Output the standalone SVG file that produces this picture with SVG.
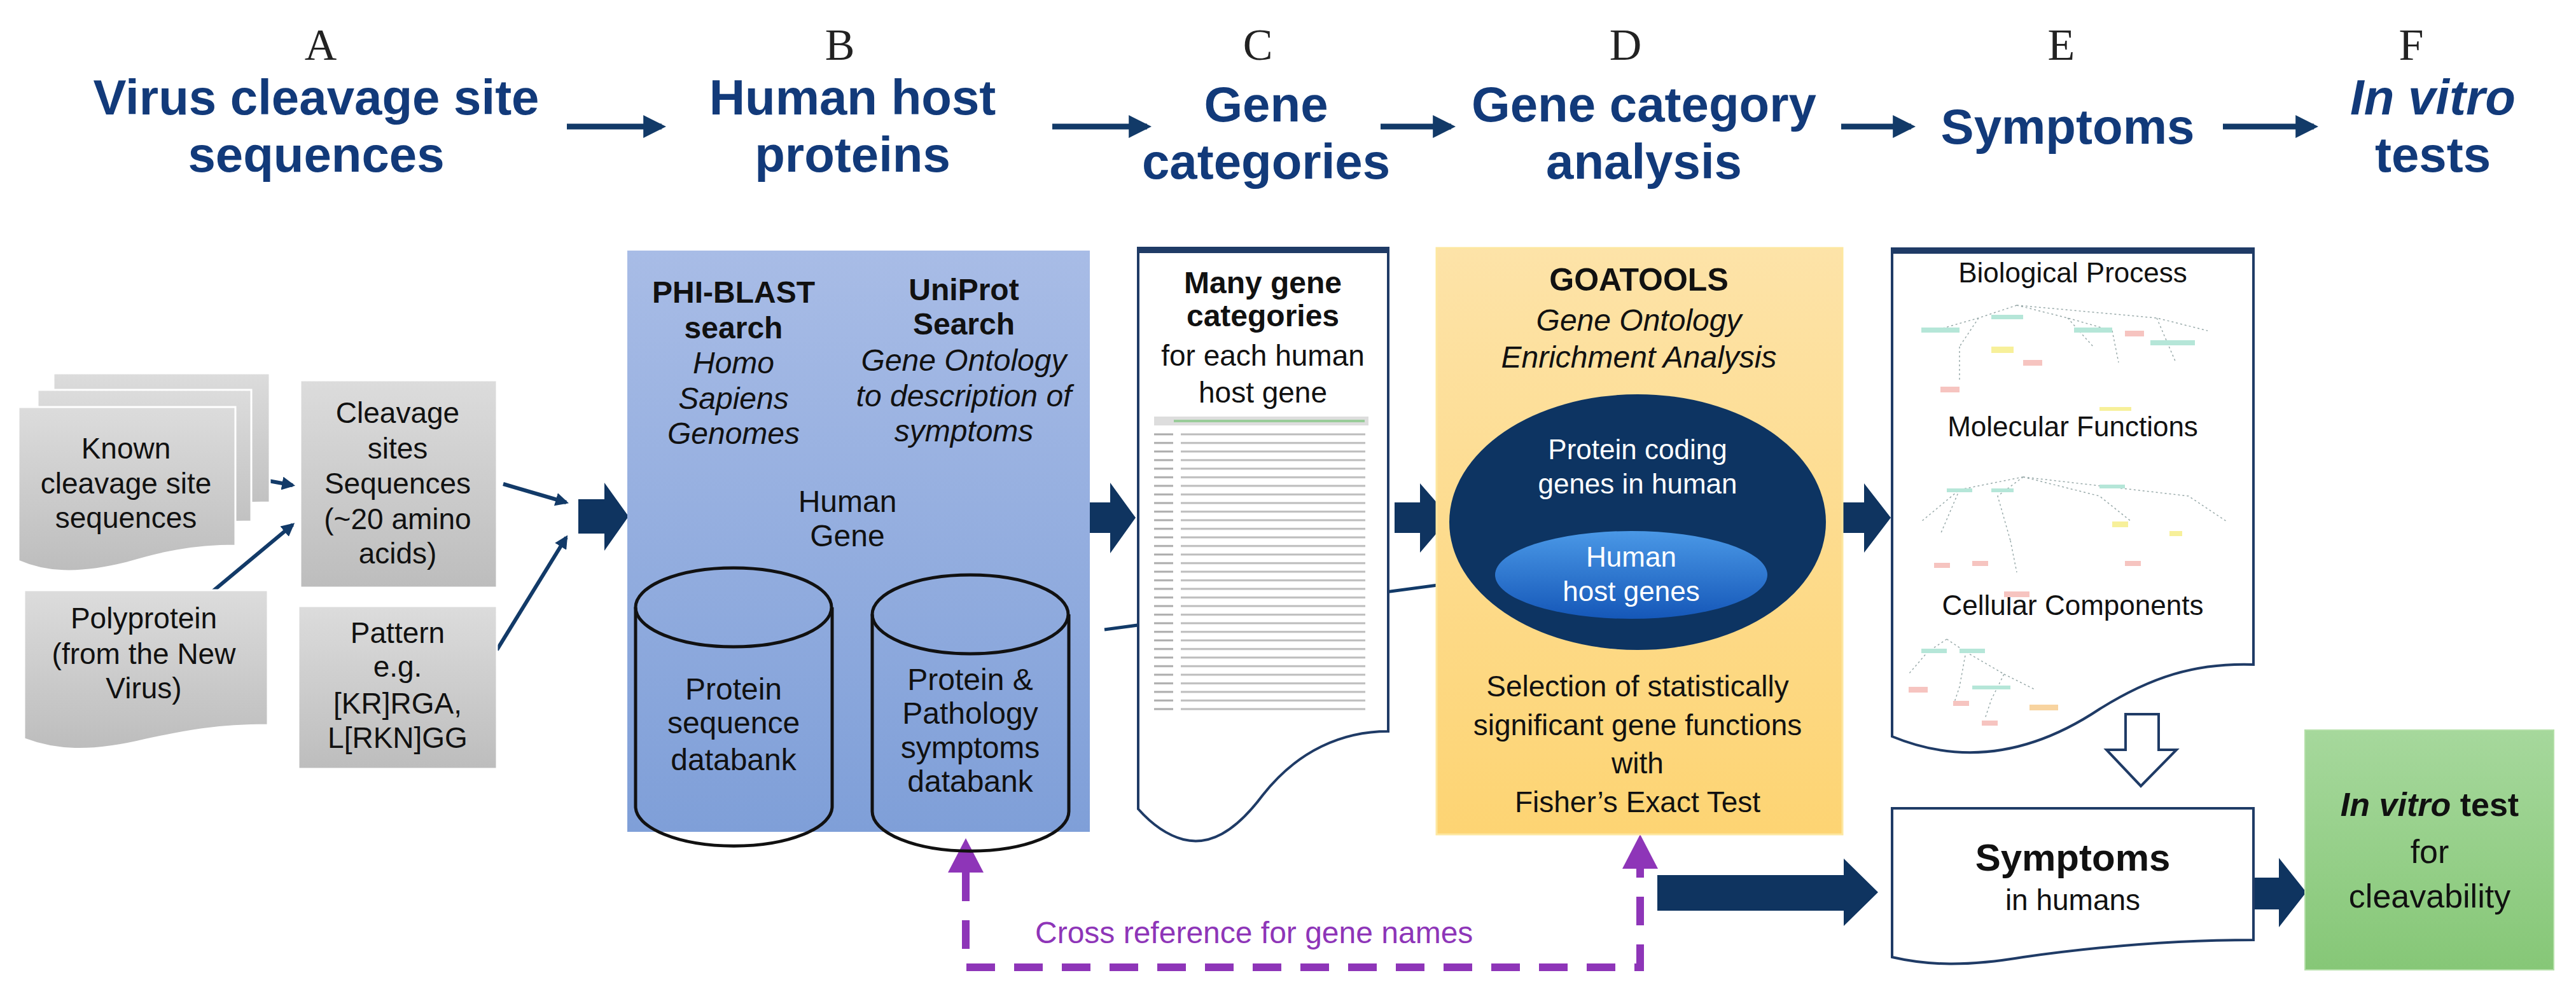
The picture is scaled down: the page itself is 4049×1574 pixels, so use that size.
<svg xmlns="http://www.w3.org/2000/svg" width="4049" height="1574" viewBox="0 0 4049 1574">
<defs>
<style>
.t{font-family:"Liberation Sans",Arial,sans-serif;fill:#111;text-anchor:middle}
.h{font-family:"Liberation Sans",Arial,sans-serif;font-weight:bold;font-size:78px;fill:#123a7a;text-anchor:middle}
.l{font-family:"Liberation Serif","Times New Roman",serif;font-size:70px;fill:#222;text-anchor:middle}
.nav{fill:#0f3460}
.doc{fill:#fff;stroke:#1f3b66;stroke-width:4}
.gr{fill:url(#gg);stroke:#fff;stroke-width:3}
.cyl{fill:none;stroke:#111;stroke-width:5}
.tr{stroke:#9aa;stroke-width:1.5;stroke-dasharray:3 4;fill:none}
.g1{fill:#b5e6d8}.r1{fill:#f6c4c0}.y1{fill:#f7f09a}
</style>
<linearGradient id="gg" x1="0" y1="0" x2="0" y2="1"><stop offset="0" stop-color="#dcdcdc"/><stop offset="1" stop-color="#bdbdbd"/></linearGradient>
<linearGradient id="bg" x1="0" y1="0" x2="0" y2="1"><stop offset="0" stop-color="#a8bce6"/><stop offset="1" stop-color="#7f9fd8"/></linearGradient>
<linearGradient id="yg" x1="0" y1="0" x2="0" y2="1"><stop offset="0" stop-color="#fde3a8"/><stop offset="1" stop-color="#fdd473"/></linearGradient>
<linearGradient id="eg" x1="0" y1="0" x2="0" y2="1"><stop offset="0" stop-color="#4a98e6"/><stop offset="1" stop-color="#1557b8"/></linearGradient>
<linearGradient id="vg" x1="0" y1="0" x2="0" y2="1"><stop offset="0" stop-color="#a6d89c"/><stop offset="1" stop-color="#86c777"/></linearGradient>
<marker id="ah" viewBox="0 0 10 10" refX="8" refY="5" markerWidth="4" markerHeight="4" orient="auto"><path d="M0,0 L10,5 L0,10 Z" fill="#123a68"/></marker>
<marker id="ah2" viewBox="0 0 10 10" refX="8" refY="5" markerWidth="3.5" markerHeight="3.5" orient="auto"><path d="M0,0 L10,5 L0,10 Z" fill="#123a68"/></marker>
<pattern id="rows" x="1814" y="690" width="337" height="13.5" patternUnits="userSpaceOnUse"><rect x="0" y="5" width="30" height="3" fill="#aaa"/><rect x="42" y="5" width="290" height="3" fill="#bbb"/></pattern>
</defs>

<g id="headers">
<text class="l" x="504" y="94">A</text><text class="l" x="1320" y="94">B</text><text class="l" x="1977" y="94">C</text><text class="l" x="2555" y="94">D</text><text class="l" x="3240" y="94">E</text><text class="l" x="3790" y="94">F</text>
<text class="h" x="497" y="180">Virus cleavage site</text><text class="h" x="497" y="270">sequences</text>
<text class="h" x="1340" y="180">Human host</text><text class="h" x="1340" y="270">proteins</text>
<text class="h" x="1990" y="191">Gene</text><text class="h" x="1990" y="281">categories</text>
<text class="h" x="2584" y="191">Gene category</text><text class="h" x="2584" y="281">analysis</text>
<text class="h" x="3250" y="226">Symptoms</text>
<text class="h" x="3824" y="180"><tspan font-style="italic">In vitro</tspan></text><text class="h" x="3824" y="270">tests</text>
</g>

<g id="connectors">
<g stroke="#123a68" stroke-width="9" marker-end="url(#ah)">
<line x1="891" y1="199" x2="1040" y2="199"/><line x1="1654" y1="199" x2="1803" y2="199"/><line x1="2170" y1="199" x2="2281" y2="199"/><line x1="2894" y1="199" x2="3004" y2="199"/><line x1="3494" y1="199" x2="3637" y2="199"/>
</g>
<g stroke="#123a68" stroke-width="6" marker-end="url(#ah2)">
<line x1="351" y1="743" x2="460" y2="763"/><line x1="328" y1="935" x2="460" y2="825"/><line x1="791" y1="761" x2="890" y2="790"/><line x1="781" y1="1022" x2="890" y2="845"/>
</g>
<polygon class="nav" points="909,785 950,785 950,759 988,812 950,866 950,839 909,839"/>
<polygon class="nav" points="1701,790 1745,790 1745,759 1785,814 1745,870 1745,838 1701,838"/>
<polygon class="nav" points="2192,790 2232,790 2232,760 2279,814 2232,869 2232,838 2192,838"/>
<polygon class="nav" points="2891,790 2930,790 2930,760 2972,814 2930,869 2930,838 2891,838"/>
<polygon class="nav" points="2605,1376 2898,1376 2898,1350 2952,1403 2898,1456 2898,1432 2605,1432"/>
<polygon class="nav" points="3542,1380 3582,1380 3582,1349 3625,1403 3582,1458 3582,1430 3542,1430"/>
<polygon points="1294,889 1360,889 1360,875 1389,897 1360,919 1360,905 1294,905" class="nav"/>
<line x1="1736" y1="990" x2="2440" y2="896" stroke="#123a68" stroke-width="5" marker-end="url(#ah2)"/>
<polygon points="3341,1123 3393,1123 3393,1179 3421,1179 3365,1236 3311,1179 3341,1179" fill="#fff" stroke="#1f3b66" stroke-width="4"/>
<g stroke="#8e35b8" stroke-width="12" fill="none">
<path d="M1518,1372 V1521 H2578 V1366" stroke-dasharray="45 30"/>
</g>
<polygon points="1490,1372 1546,1372 1518,1318" fill="#8e35b8"/>
<polygon points="2550,1366 2606,1366 2578,1312" fill="#8e35b8"/>
<text class="t" x="1627" y="1483" font-size="48" fill="#8e35b8" style="text-anchor:start;fill:#8e35b8">Cross reference for gene names</text>
</g>

<g id="known">
<path class="gr" d="M84,587 H424 V790 C350,790 300,800 250,812 C170,830 120,825 84,812 Z"/>
<path class="gr" d="M59,613 H395 V820 C320,820 270,830 220,842 C140,860 95,855 59,842 Z"/>
<path class="gr" d="M29,640 H370 V858 C300,858 250,870 200,885 C120,905 70,900 29,882 Z"/>
<text class="t" font-size="46" x="198" y="721">Known</text><text class="t" font-size="46" x="198" y="776">cleavage site</text><text class="t" font-size="46" x="198" y="830">sequences</text>
</g>
<g id="poly">
<path class="gr" d="M38,928 H421 V1140 C340,1140 290,1150 230,1163 C140,1185 85,1180 38,1162 Z"/>
<text class="t" font-size="46" x="226" y="988">Polyprotein</text><text class="t" font-size="46" x="226" y="1044">(from the New</text><text class="t" font-size="46" x="226" y="1098">Virus)</text>
</g>
<g id="cleavage">
<rect class="gr" x="472" y="598" width="309" height="326"/>
<text class="t" font-size="46" x="625" y="665">Cleavage</text><text class="t" font-size="46" x="625" y="721">sites</text><text class="t" font-size="46" x="625" y="776">Sequences</text><text class="t" font-size="46" x="625" y="832">(~20 amino</text><text class="t" font-size="46" x="625" y="886">acids)</text>
</g>
<g id="pattern">
<rect class="gr" x="469" y="953" width="312" height="256"/>
<text class="t" font-size="46" x="625" y="1011">Pattern</text><text class="t" font-size="46" x="625" y="1064">e.g.</text><text class="t" font-size="46" x="625" y="1122">[KR]RGA,</text><text class="t" font-size="46" x="625" y="1176">L[RKN]GG</text>
</g>

<g id="B">
<rect x="986" y="394" width="727" height="914" fill="url(#bg)"/>
<g class="t" font-size="48">
<text x="1153" y="476" font-weight="bold">PHI-BLAST</text><text x="1153" y="532" font-weight="bold">search</text>
<text x="1153" y="587" font-style="italic">Homo</text><text x="1153" y="643" font-style="italic">Sapiens</text><text x="1153" y="698" font-style="italic">Genomes</text>
<text x="1515" y="472" font-weight="bold">UniProt</text><text x="1515" y="526" font-weight="bold">Search</text>
<text x="1515" y="583" font-style="italic">Gene Ontology</text><text x="1515" y="639" font-style="italic">to description of</text><text x="1515" y="694" font-style="italic">symptoms</text>
<text x="1332" y="805">Human</text><text x="1332" y="859">Gene</text>
</g>
<g id="db1">
<path class="cyl" d="M999,955 V1268 A154,62 0 0 0 1308,1268 V955"/><ellipse class="cyl" cx="1153" cy="955" rx="154" ry="62"/>
<text class="t" font-size="48" x="1153" y="1100">Protein</text><text class="t" font-size="48" x="1153" y="1153">sequence</text><text class="t" font-size="48" x="1153" y="1211">databank</text>
</g>
<g id="db2">
<path class="cyl" d="M1371,966 V1276 A154,62 0 0 0 1680,1276 V966"/><ellipse class="cyl" cx="1525" cy="966" rx="154" ry="62"/>
<text class="t" font-size="48" x="1525" y="1085">Protein &amp;</text><text class="t" font-size="48" x="1525" y="1138">Pathology</text><text class="t" font-size="48" x="1525" y="1192">symptoms</text><text class="t" font-size="48" x="1525" y="1245">databank</text>
</g>
</g>

<g id="C">
<path class="doc" d="M1789,390 H2182 V1150 C2110,1150 2040,1180 1985,1250 C1940,1310 1900,1330 1860,1320 C1830,1312 1805,1290 1789,1272 Z"/>
<rect x="1789" y="390" width="393" height="8" fill="#1f3b66"/>
<text class="t" font-size="48" font-weight="bold" x="1985" y="461">Many gene</text><text class="t" font-size="48" font-weight="bold" x="1985" y="513">categories</text>
<text class="t" font-size="46" x="1985" y="575">for each human</text><text class="t" font-size="46" x="1985" y="633">host gene</text>
<rect x="1814" y="655" width="337" height="14" fill="#ddd"/><rect x="1845" y="660" width="300" height="4" fill="#9c9"/>
<rect x="1814" y="675" width="337" height="449" fill="url(#rows)"/>
</g>

<g id="D">
<rect x="2258" y="390" width="638" height="922" fill="url(#yg)" stroke="#fde7a0" stroke-width="3"/>
<text class="t" font-size="50" font-weight="bold" x="2576" y="457">GOATOOLS</text>
<text class="t" font-size="48" font-style="italic" x="2576" y="520">Gene Ontology</text><text class="t" font-size="48" font-style="italic" x="2576" y="578">Enrichment Analysis</text>
<ellipse cx="2574" cy="821" rx="296" ry="201" fill="#0d3462"/>
<text class="t" font-size="44" x="2574" y="722" style="fill:#fff">Protein coding</text><text class="t" font-size="44" x="2574" y="776" style="fill:#fff">genes in human</text>
<ellipse cx="2564" cy="904" rx="214" ry="69" fill="url(#eg)"/>
<text class="t" font-size="44" x="2564" y="891" style="fill:#fff">Human</text><text class="t" font-size="44" x="2564" y="945" style="fill:#fff">host genes</text>
<text class="t" font-size="46" x="2574" y="1095">Selection of statistically</text><text class="t" font-size="46" x="2574" y="1156">significant gene functions</text><text class="t" font-size="46" x="2574" y="1216">with</text><text class="t" font-size="46" x="2574" y="1277">Fisher’s Exact Test</text>
</g>

<g id="E">
<path class="doc" d="M2974,391 H3542 V1045 C3450,1042 3380,1065 3300,1115 C3210,1175 3100,1210 2974,1158 Z"/>
<rect x="2974" y="391" width="568" height="8" fill="#1f3b66"/>
<text class="t" font-size="44" x="3258" y="444">Biological Process</text>
<text class="t" font-size="44" x="3258" y="686">Molecular Functions</text>
<text class="t" font-size="44" x="3258" y="967">Cellular Components</text>
<g id="trees">
<path class="tr" d="M3170,480 L3110,500 L3040,520 M3170,480 L3250,500 L3320,520 M3170,480 L3390,500 L3470,520 M3110,500 L3080,545 M3250,500 L3290,545 M3320,520 L3330,570 M3390,500 L3420,570 M3080,545 L3080,600"/>
<rect class="g1" x="3020" y="515" width="60" height="8"/><rect class="g1" x="3130" y="495" width="50" height="7"/><rect class="g1" x="3260" y="515" width="60" height="8"/><rect class="g1" x="3380" y="535" width="70" height="8"/>
<rect class="y1" x="3130" y="545" width="35" height="10"/><rect class="r1" x="3180" y="566" width="30" height="9"/><rect class="r1" x="3050" y="608" width="30" height="9"/><rect class="r1" x="3340" y="520" width="30" height="9"/><rect class="y1" x="3300" y="640" width="50" height="6"/>
<path class="tr" d="M3180,750 L3080,770 L3020,820 M3180,750 L3140,780 L3160,850 M3180,750 L3300,780 L3350,820 M3180,750 L3440,780 L3500,820 M3160,850 L3170,900 M3080,770 L3050,840"/>
<rect class="g1" x="3060" y="768" width="40" height="6"/><rect class="g1" x="3130" y="768" width="35" height="6"/><rect class="g1" x="3300" y="762" width="40" height="6"/>
<rect class="y1" x="3320" y="820" width="25" height="9"/><rect class="y1" x="3410" y="835" width="20" height="8"/><rect class="r1" x="3340" y="882" width="25" height="8"/><rect class="r1" x="3040" y="885" width="25" height="8"/><rect class="r1" x="3100" y="882" width="25" height="8"/><rect class="r1" x="3150" y="930" width="40" height="9"/>
<path class="tr" d="M3060,1005 L3030,1025 L3000,1060 M3060,1005 L3090,1025 L3080,1080 L3070,1110 M3090,1025 L3150,1060 L3130,1100 L3120,1130 M3150,1060 L3200,1085"/>
<rect class="g1" x="3020" y="1020" width="40" height="7"/><rect class="g1" x="3080" y="1020" width="40" height="7"/><rect class="g1" x="3100" y="1078" width="60" height="6"/>
<rect class="r1" x="3000" y="1080" width="30" height="9"/><rect class="r1" x="3070" y="1102" width="25" height="8"/><rect class="r1" x="3115" y="1133" width="25" height="8"/><rect fill="#f8d4a0" x="3190" y="1108" width="45" height="9"/>
</g>
</g>

<g id="symptoms">
<path class="doc" d="M2974,1271 H3542 V1478 C3420,1478 3300,1488 3180,1505 C3090,1520 3030,1518 2974,1505 Z"/>
<text class="t" font-size="60" font-weight="bold" x="3258" y="1369">Symptoms</text>
<text class="t" font-size="46" x="3258" y="1431">in humans</text>
</g>

<g id="F">
<rect x="3623" y="1148" width="391" height="377" fill="url(#vg)" stroke="#b4e0a8" stroke-width="2"/>
<text class="t" font-size="52" x="3819" y="1283"><tspan font-weight="bold" font-style="italic">In vitro</tspan><tspan font-weight="bold"> test</tspan></text>
<text class="t" font-size="52" x="3819" y="1357">for</text><text class="t" font-size="52" x="3819" y="1427">cleavability</text>
</g>
</svg>
